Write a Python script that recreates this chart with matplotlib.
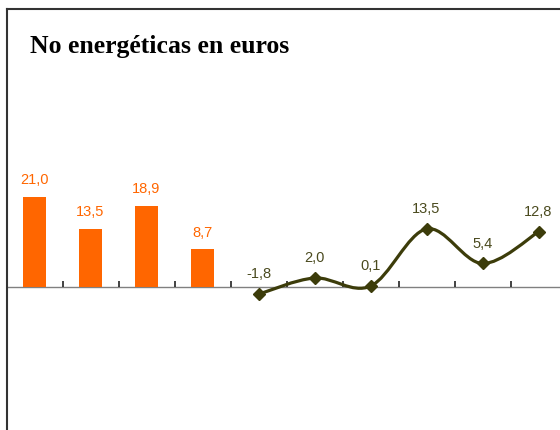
import matplotlib
matplotlib.use("Agg")
import matplotlib.pyplot as plt
from matplotlib.path import Path
from matplotlib.patches import PathPatch

# data
bar_pos = [0, 1, 2, 3]
bar_vals = [21.0, 13.5, 18.9, 8.7]
line_pos = [4, 5, 6, 7, 8, 9]
line_vals = [-1.8, 2.0, 0.1, 13.5, 5.4, 12.8]
title = "No energéticas en euros"

ORANGE = "#FF6600"
OLIVE = "#3C3C0A"
OLIVE_TXT = "#4A4A1E"


def fmt(v):
    return f"{v:.1f}".replace(".", ",")


def smooth_path(xs, ys):
    # excel-like smoothed line: cubic bezier with catmull-rom tangents
    pts = list(zip(xs, ys))
    n = len(pts)
    verts = [pts[0]]
    codes = [Path.MOVETO]
    for i in range(n - 1):
        p0 = pts[max(i - 1, 0)]
        p1 = pts[i]
        p2 = pts[i + 1]
        p3 = pts[min(i + 2, n - 1)]
        c1 = (p1[0] + (p2[0] - p0[0]) / 6, p1[1] + (p2[1] - p0[1]) / 6)
        c2 = (p2[0] - (p3[0] - p1[0]) / 6, p2[1] - (p3[1] - p1[1]) / 6)
        verts += [c1, c2, p2]
        codes += [Path.CURVE4] * 3
    return Path(verts, codes)


def main():
    fig = plt.figure(figsize=(5.6, 4.3), dpi=100)
    # axes spans past the right and bottom edges of the figure, like the crop
    px = 4.27  # pixels per unit
    ymin, ymax = -40, 65
    h = (ymax - ymin) * px
    top = 1 - 9 / 430
    ax = fig.add_axes([6.5 / 560, top - h / 430, 560 / 560, h / 430])
    ax.set_xlim(-0.5, 9.5)
    ax.set_ylim(ymin, ymax)

    ax.bar(bar_pos, bar_vals, width=0.41, color=ORANGE, zorder=2)
    for x, v in zip(bar_pos, bar_vals):
        ax.annotate(fmt(v), (x, v), xytext=(0, 9), textcoords="offset points",
                    ha="center", va="baseline", color=ORANGE,
                    fontsize=10.5, family="Liberation Sans")

    ax.add_patch(PathPatch(smooth_path(line_pos, line_vals), fill=False,
                           edgecolor=OLIVE, lw=2.3, zorder=3))
    ax.plot(line_pos, line_vals, ls="none", marker="D", ms=6.5,
            color=OLIVE, zorder=4)
    for x, v in zip(line_pos, line_vals):
        ax.annotate(fmt(v), (x, v), xytext=(0, 11.5), textcoords="offset points",
                    ha="center", va="baseline", color=OLIVE_TXT,
                    fontsize=10.5, family="Liberation Sans")

    ax.spines["right"].set_visible(False)
    ax.spines["top"].set_color("#333333")
    ax.spines["top"].set_linewidth(1.5)
    ax.spines["left"].set_color("#333333")
    ax.spines["left"].set_linewidth(1.5)
    ax.spines["bottom"].set_position(("data", 0))
    ax.spines["bottom"].set_color("#808080")
    ax.spines["bottom"].set_linewidth(1.0)
    ax.spines["bottom"].set_zorder(1)

    ax.set_xticks([i + 0.5 for i in range(9)])
    ax.set_xticklabels([])
    ax.tick_params(axis="x", direction="in", length=4, width=1.2, color="#222222")
    ax.set_yticks([])

    fig.text(30 / 560, 1 - 53 / 430, title, fontsize=18.5, fontweight="bold",
             family="Liberation Serif", ha="left", va="baseline")

    fig.savefig("out.png", dpi=100)


if __name__ == "__main__":
    main()
